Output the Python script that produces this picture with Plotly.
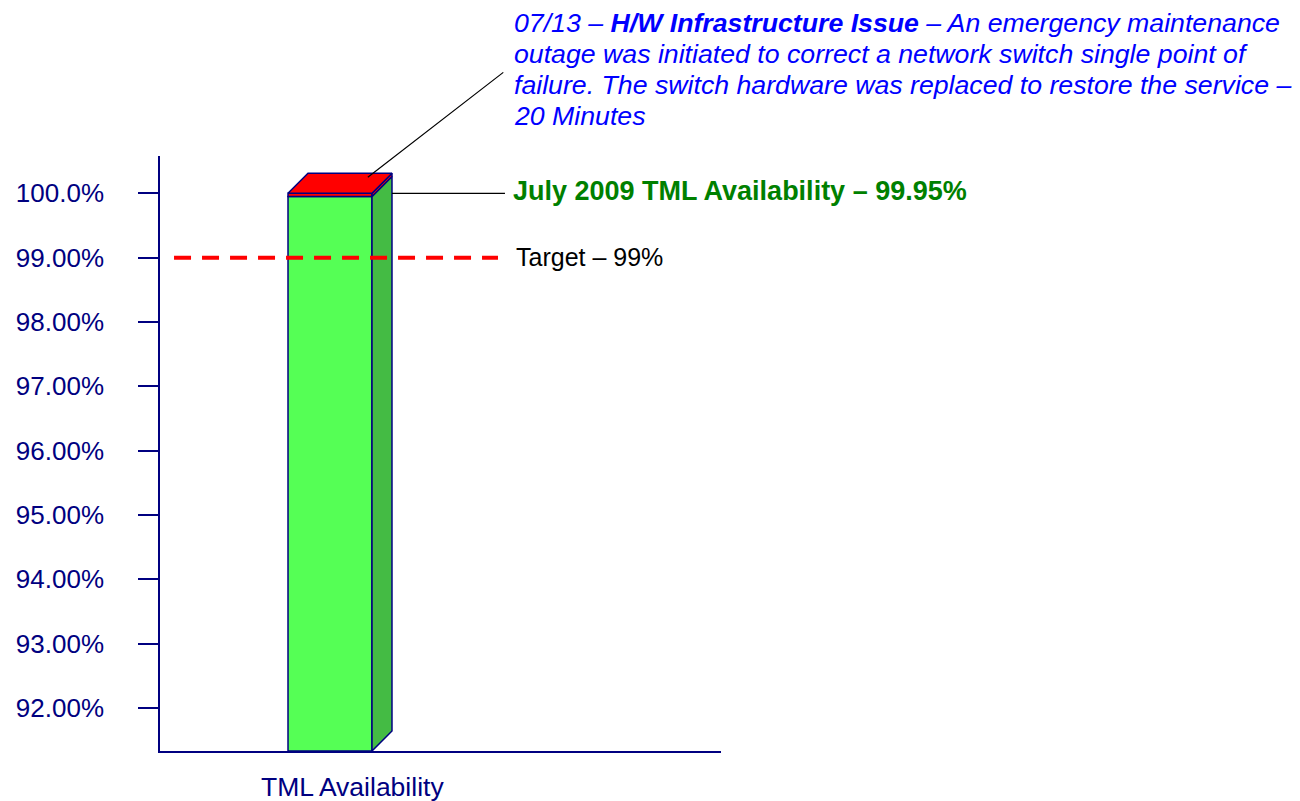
import plotly.graph_objects as go

# ---------------- data ----------------
categories = ["TML Availability"]
availability = [99.95]          # % available (green)
outage = [0.05]                 # % outage (red)
target = 99.0
tick_values = [92, 93, 94, 95, 96, 97, 98, 99, 100]
tick_labels = ["92.00%", "93.00%", "94.00%", "95.00%", "96.00%",
               "97.00%", "98.00%", "99.00%", "100.0%"]
month_label = "July 2009 TML Availability – 99.95%"
target_label = "Target – 99%"
note_lines = [
    "07/13 – <b>H/W Infrastructure Issue</b> – An emergency maintenance",
    "outage was initiated to correct a network switch single point of",
    "failure. The switch hardware was replaced to restore the service –",
    "20 Minutes",
]

# ---------------- layout constants ----------------
W, H = 1292, 793                            # page body has an 8px margin
PL, PR, PT, PB = 152, 713, 148, 743         # plot area in figure px
Y_MIN, Y_MAX = 91.33, 100.58
X_MIN, X_MAX = -2.024, 4.655
DX, DY = 0.238, 0.311                       # 3D depth offset (data units)
NAVY = "#000080"
FONT = "Arial, Liberation Sans, sans-serif"


def paper_x(px):
    return (px - PL) / (PR - PL)


def paper_y(py):
    return (PB - py) / (PB - PT)


avail = availability[0]
total = availability[0] + outage[0]

fig = go.Figure()

# front faces
fig.add_bar(x=[0], y=[avail - Y_MIN], base=[Y_MIN], width=1,
            marker=dict(color="#55FF55", line=dict(color=NAVY, width=1.5)),
            name=categories[0])
fig.add_bar(x=[0], y=outage, base=availability, width=1,
            marker=dict(color="#FF0000", line=dict(color=NAVY, width=1.5)),
            name="Outage")

# side face (green part)
fig.add_scatter(x=[0.5, 0.5 + DX, 0.5 + DX, 0.5, 0.5],
                y=[Y_MIN, Y_MIN + DY, avail + DY, avail, Y_MIN],
                mode="lines", fill="toself", fillcolor="#44BB44",
                line=dict(color=NAVY, width=1.5), hoverinfo="skip")
# side face (red part)
fig.add_scatter(x=[0.5, 0.5 + DX, 0.5 + DX, 0.5, 0.5],
                y=[avail, avail + DY, total + DY, total, avail],
                mode="lines", fill="toself", fillcolor="#FF0000",
                line=dict(color=NAVY, width=1.5), hoverinfo="skip")
# top face
fig.add_scatter(x=[-0.5, 0.5, 0.5 + DX, -0.5 + DX, -0.5],
                y=[total, total, total + DY, total + DY, total],
                mode="lines", fill="toself", fillcolor="#FF0000",
                line=dict(color=NAVY, width=1.5), hoverinfo="skip")

# target line
TX0, TX1 = -1.857, 2.0
fig.add_scatter(x=[TX0, TX1], y=[target, target], mode="lines",
                line=dict(color="#FF0000", width=4, dash="17px,11px"),
                hoverinfo="skip")

# leader to availability label
LX1 = 2.083
fig.add_scatter(x=[0.5 + DX, LX1], y=[total, total], mode="lines",
                line=dict(color="black", width=1.2), hoverinfo="skip")

annotations = [
    dict(x=LX1, y=total, xref="x", yref="y", text=f"<b>{month_label}</b>",
         showarrow=False, xanchor="left", yanchor="middle", xshift=6, yshift=2,
         font=dict(family=FONT, size=27, color="#008000")),
    dict(x=TX1, y=target, xref="x", yref="y", text=target_label,
         showarrow=False, xanchor="left", yanchor="middle", xshift=16, yshift=1,
         font=dict(family=FONT, size=25, color="black")),
    dict(x=0, y=0, xref="x", yref="paper", text=categories[0],
         showarrow=False, xanchor="center", yanchor="middle", xshift=22, yshift=-36,
         font=dict(family=FONT, size=26.5, color=NAVY)),
    dict(x=0.45, y=total + 0.25, xref="x", yref="y", text="",
         showarrow=True, arrowhead=0, arrowwidth=1.2, arrowcolor="black",
         standoff=0, ax=137, ay=-106),
]
for i, line in enumerate(note_lines):
    annotations.append(
        dict(x=paper_x(504), y=paper_y(15 + 31 * i), xref="paper", yref="paper",
             text=f"<i>{line}</i>", showarrow=False, xanchor="left", yanchor="middle",
             align="left", font=dict(family=FONT, size=26.7, color="#0000FF")))

fig.update_layout(
    width=W, height=H,
    margin=dict(l=PL, r=W - PR, t=PT, b=H - PB, pad=0, autoexpand=False),
    paper_bgcolor="white", plot_bgcolor="white",
    showlegend=False, barmode="overlay",
    annotations=annotations,
    font=dict(family=FONT),
)
fig.update_xaxes(range=[X_MIN, X_MAX], showgrid=False, zeroline=False,
                 showticklabels=False, ticks="", showline=True, automargin=False,
                 linecolor=NAVY, linewidth=1.5)
fig.update_yaxes(range=[Y_MIN, Y_MAX], showgrid=False, zeroline=False,
                 tickvals=tick_values, ticktext=tick_labels, automargin=False,
                 ticks="outside", ticklen=20, tickwidth=1.5, tickcolor=NAVY,
                 tickfont=dict(family=FONT, size=26, color=NAVY),
                 ticklabelstandoff=29,
                 showline=True, linecolor=NAVY, linewidth=1.5)

fig.write_html("out.html")
